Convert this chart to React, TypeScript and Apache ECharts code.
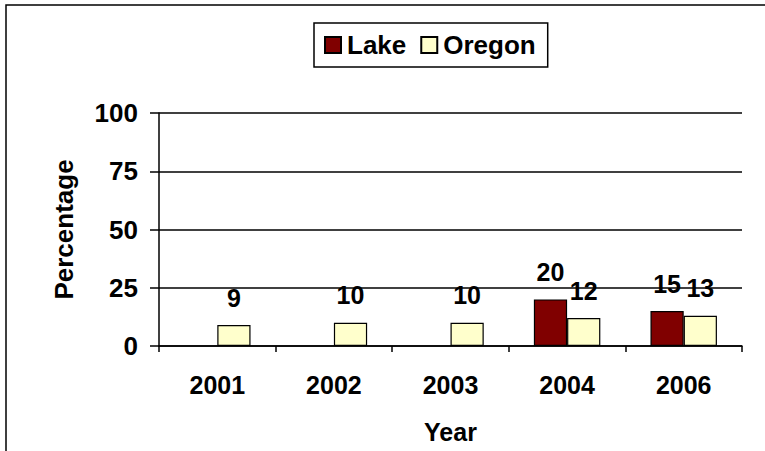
import React, { useEffect, useRef } from "react";
import * as echarts from "echarts";

const categories = ["2001", "2002", "2003", "2004", "2006"];
const lakeValues: (number | null)[] = [null, null, null, 20, 15];
const oregonValues = [9, 10, 10, 12, 13];
const yTicks = [0, 25, 50, 75, 100];

const FONT = "Arial, 'Liberation Sans', sans-serif";

export default function App() {
  const ref = useRef<HTMLDivElement>(null);
  useEffect(() => {
    if (!ref.current) return;
    const chart = echarts.init(ref.current, undefined, { renderer: "svg" });
    const labelStyle = {
      show: true,
      position: "top" as const,
      distance: 15,
      fontFamily: FONT,
      fontWeight: "bold" as const,
      fontSize: 25,
      color: "#000",
    };
    chart.setOption({
      animation: false,
      backgroundColor: "#fff",
      graphic: [
        {
          type: "rect",
          shape: { x: 6, y: 5, width: 800, height: 500 },
          style: { fill: "none", stroke: "#000", lineWidth: 1.5 },
          silent: true,
        },
      ],
      legend: {
        left: 314,
        top: 23,
        data: ["Lake", "Oregon"],
        borderColor: "#000",
        borderWidth: 1.5,
        padding: [9, 12, 9, 10],
        itemGap: 14,
        itemWidth: 16,
        itemHeight: 16,
        icon: "rect",
        textStyle: { fontFamily: FONT, fontWeight: "bold", fontSize: 26, color: "#000", padding: [0, 0, 0, 1] },
      },
      grid: { left: 159, top: 113, right: 23, bottom: 105 },
      xAxis: {
        type: "category",
        data: categories,
        name: "Year",
        nameLocation: "middle",
        nameGap: 73,
        nameTextStyle: { fontFamily: FONT, fontWeight: "bold", fontSize: 25, color: "#000", letterSpacing: 3 },
        axisLine: { lineStyle: { color: "#000", width: 1.5 } },
        axisTick: { show: true, length: 6, lineStyle: { color: "#000", width: 1.5 } },
        axisLabel: { margin: 26, fontFamily: FONT, fontWeight: "bold", fontSize: 25, color: "#000" },
      },
      yAxis: {
        type: "value",
        min: yTicks[0],
        max: yTicks[yTicks.length - 1],
        interval: 25,
        name: "Percentage",
        nameLocation: "middle",
        nameGap: 82,
        nameTextStyle: { fontFamily: FONT, fontWeight: "bold", fontSize: 26, color: "#000" },
        axisLine: { show: true, lineStyle: { color: "#000", width: 1.5 } },
        axisTick: { show: true, length: 9, lineStyle: { color: "#000", width: 1.5 } },
        splitLine: { show: true, lineStyle: { color: "#000", width: 1.5 } },
        axisLabel: { margin: 21, fontFamily: FONT, fontWeight: "bold", fontSize: 26, color: "#000" },
      },
      series: [
        {
          name: "Lake",
          type: "bar",
          data: lakeValues,
          barGap: "0%",
          barCategoryGap: "43%",
          itemStyle: { color: "#800000", borderColor: "#000", borderWidth: 1.2 },
          label: labelStyle,
        },
        {
          name: "Oregon",
          type: "bar",
          data: oregonValues,
          barGap: "0%",
          barCategoryGap: "43%",
          itemStyle: { color: "#FFFFCC", borderColor: "#000", borderWidth: 1.2 },
          label: labelStyle,
        },
      ],
    });
    return () => chart.dispose();
  }, []);
  return (
    <div
      ref={ref}
      style={{ position: "fixed", left: 0, top: 0, width: 765, height: 451 }}
    />
  );
}
